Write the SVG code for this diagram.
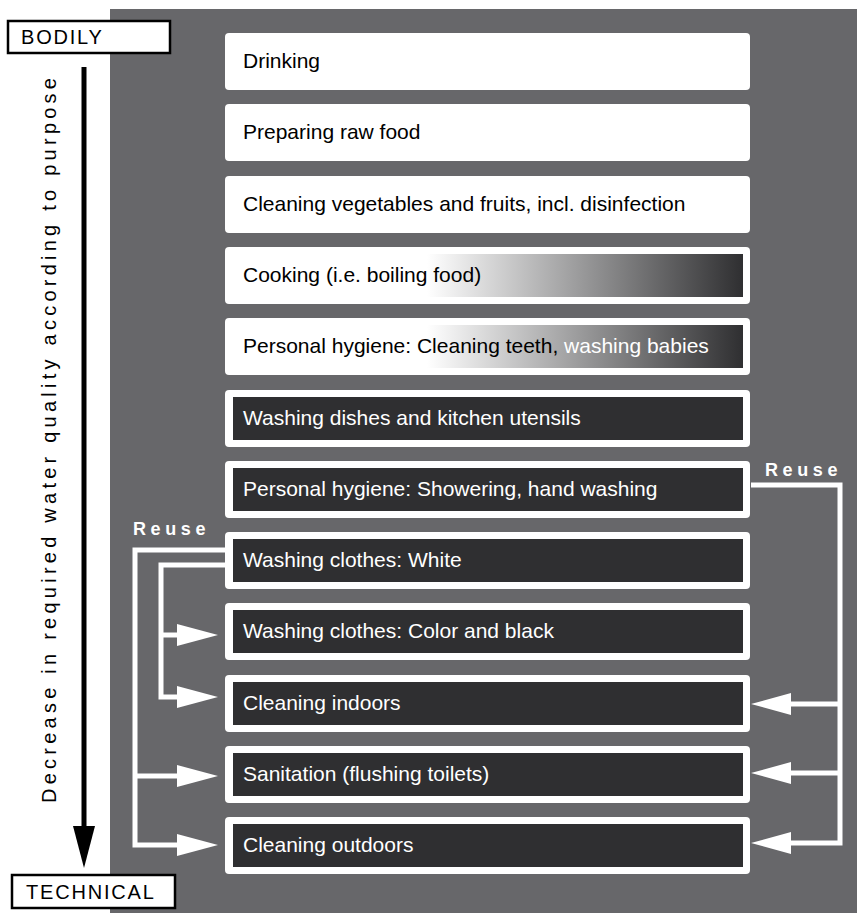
<svg xmlns="http://www.w3.org/2000/svg" width="857" height="913" viewBox="0 0 857 913">
<style>
.box{fill:#fff}
.dark{fill:#2f2f31}
.t{font-family:"Liberation Sans",Arial,sans-serif;font-size:21px}
.tv{font-family:"Liberation Sans",Arial,sans-serif;font-size:20px}
.tb{fill:#000}
.tw{fill:#fff}
.conn{fill:none;stroke:#fff;stroke-width:5}
.head{fill:#fff}
.reuse{font-family:"Liberation Sans",Arial,sans-serif;font-size:18px;font-weight:bold;fill:#fff;letter-spacing:4.6px}
.lbl{font-family:"Liberation Sans",Arial,sans-serif;font-size:20px;fill:#000;letter-spacing:1.8px}
</style>
<defs>
<linearGradient id="grad" x1="427" y1="0" x2="743" y2="0" gradientUnits="userSpaceOnUse">
<stop offset="0" stop-color="#fff"/>
<stop offset="1" stop-color="#2f2f31"/>
</linearGradient>
</defs>
<rect x="0" y="0" width="857" height="913" fill="#fff"/>
<rect x="110" y="9" width="747" height="904" fill="#67676a"/>

<g id="bodily">
<rect x="8" y="21" width="162" height="32" fill="#fff" stroke="#000" stroke-width="2.5"/>
<text class="lbl" x="21" y="44">BODILY</text>
</g>
<g id="technical">
<rect x="12" y="875" width="163" height="33" fill="#fff" stroke="#000" stroke-width="2.5"/>
<text class="lbl" x="26" y="899">TECHNICAL</text>
</g>
<g id="axis">
<line x1="84" y1="67" x2="84" y2="830" stroke="#000" stroke-width="5"/>
<polygon points="73,826 95,826 84,868" fill="#000"/>
<text class="tv tb" transform="translate(56,440.5) rotate(-90)" text-anchor="middle" textLength="725" lengthAdjust="spacing">Decrease in required water quality according to purpose</text>
</g>

<g id="n1"><rect class="box" x="225" y="33" width="525" height="57" rx="4"/><text class="t tb" x="243" y="68">Drinking</text></g>
<g id="n2"><rect class="box" x="225" y="104" width="525" height="57" rx="4"/><text class="t tb" x="243" y="139">Preparing raw food</text></g>
<g id="n3"><rect class="box" x="225" y="176" width="525" height="57" rx="4"/><text class="t tb" x="243" y="211">Cleaning vegetables and fruits, incl. disinfection</text></g>
<g id="n4"><rect class="box" x="225" y="247" width="525" height="57" rx="4"/><rect x="427" y="254" width="316" height="43" fill="url(#grad)"/><text class="t tb" x="243" y="282">Cooking (i.e. boiling food)</text></g>
<g id="n5"><rect class="box" x="225" y="318" width="525" height="57" rx="4"/><rect x="423" y="325" width="320" height="43" fill="url(#grad)"/><text class="t tb" x="243" y="353">Personal hygiene: Cleaning teeth,<tspan class="tw"> washing babies</tspan></text></g>
<g id="n6"><rect class="box" x="225" y="390" width="525" height="57" rx="4"/><rect class="dark" x="233" y="397" width="510" height="43"/><text class="t tw" x="243" y="425">Washing dishes and kitchen utensils</text></g>
<g id="n7"><rect class="box" x="225" y="461" width="525" height="57" rx="4"/><rect class="dark" x="233" y="468" width="510" height="43"/><text class="t tw" x="243" y="496">Personal hygiene: Showering, hand washing</text></g>
<g id="n8"><rect class="box" x="225" y="532" width="525" height="57" rx="4"/><rect class="dark" x="233" y="539" width="510" height="43"/><text class="t tw" x="243" y="567">Washing clothes: White</text></g>
<g id="n9"><rect class="box" x="225" y="603" width="525" height="57" rx="4"/><rect class="dark" x="233" y="610" width="510" height="43"/><text class="t tw" x="243" y="638">Washing clothes: Color and black</text></g>
<g id="n10"><rect class="box" x="225" y="675" width="525" height="57" rx="4"/><rect class="dark" x="233" y="682" width="510" height="43"/><text class="t tw" x="243" y="710">Cleaning indoors</text></g>
<g id="n11"><rect class="box" x="225" y="746" width="525" height="57" rx="4"/><rect class="dark" x="233" y="753" width="510" height="43"/><text class="t tw" x="243" y="781">Sanitation (flushing toilets)</text></g>
<g id="n12"><rect class="box" x="225" y="817" width="525" height="57" rx="4"/><rect class="dark" x="233" y="824" width="510" height="43"/><text class="t tw" x="243" y="852">Cleaning outdoors</text></g>

<g id="connectors">
<text class="reuse" x="133" y="535">Reuse</text>
<text class="reuse" x="765" y="476">Reuse</text>
<polyline class="conn" points="225,550 135,550 135,845 178,845"/>
<line class="conn" x1="135" y1="776" x2="178" y2="776"/>
<polyline class="conn" points="225,565 161,565 161,697 178,697"/>
<line class="conn" x1="161" y1="635" x2="178" y2="635"/>
<polygon class="head" points="177,624 218,635 177,646"/>
<polygon class="head" points="177,686 218,697 177,708"/>
<polygon class="head" points="177,765 218,776 177,787"/>
<polygon class="head" points="177,834 218,845 177,856"/>
<polyline class="conn" points="751,485 840,485 840,843 790,843"/>
<line class="conn" x1="840" y1="704" x2="790" y2="704"/>
<line class="conn" x1="840" y1="773" x2="790" y2="773"/>
<polygon class="head" points="791,693 751,704 791,715"/>
<polygon class="head" points="791,762 751,773 791,784"/>
<polygon class="head" points="791,832 751,843 791,854"/>
</g>
</svg>
